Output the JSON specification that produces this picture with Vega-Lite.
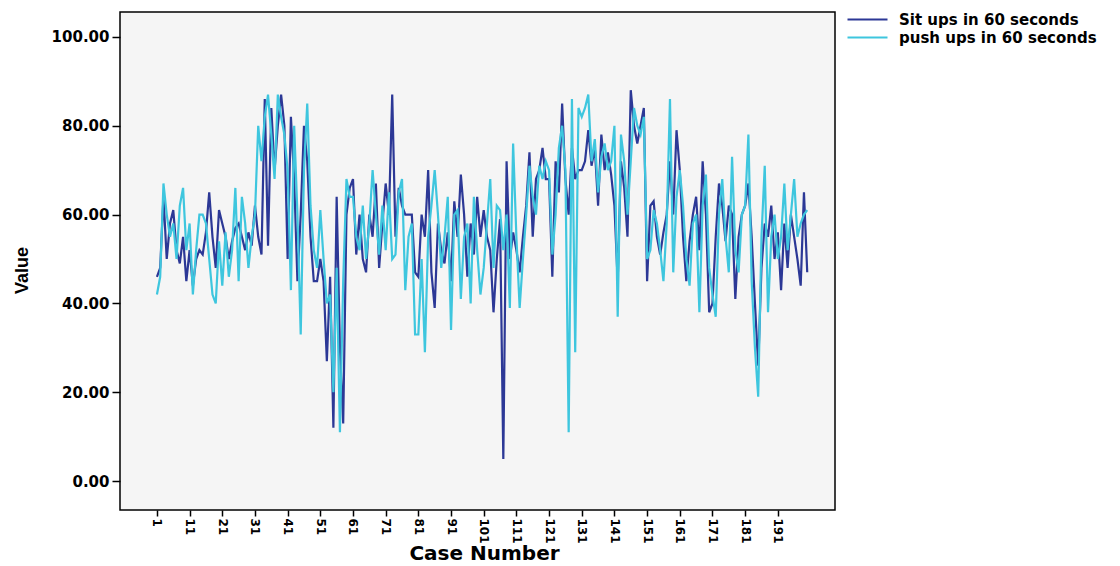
{
  "$schema": "https://vega.github.io/schema/vega-lite/v6.json",
  "width": 715,
  "height": 498,
  "autosize": {"type": "none"},
  "padding": {"left": 120, "top": 12, "right": 285, "bottom": 56},
  "background": "white",
  "config": {
    "view": {"stroke": "black", "strokeWidth": 1.5, "fill": "#f5f5f5"},
    "axis": {"grid": false, "domain": false, "tickColor": "black", "labelColor": "black", "titleColor": "black", "tickWidth": 1.5}
  },
  "data": {"values": [
    {"case":1,"sit":46,"push":42},{"case":2,"sit":48,"push":46},{"case":3,"sit":64,"push":67},{"case":4,"sit":50,"push":60},{"case":5,"sit":58,"push":55},
    {"case":6,"sit":61,"push":58},{"case":7,"sit":52,"push":50},{"case":8,"sit":49,"push":62},{"case":9,"sit":55,"push":66},{"case":10,"sit":45,"push":52},
    {"case":11,"sit":52,"push":58},{"case":12,"sit":44,"push":42},{"case":13,"sit":50,"push":52},{"case":14,"sit":52,"push":60},{"case":15,"sit":51,"push":60},
    {"case":16,"sit":56,"push":58},{"case":17,"sit":65,"push":50},{"case":18,"sit":55,"push":42},{"case":19,"sit":48,"push":40},{"case":20,"sit":61,"push":54},
    {"case":21,"sit":58,"push":44},{"case":22,"sit":55,"push":56},{"case":23,"sit":50,"push":46},{"case":24,"sit":54,"push":52},{"case":25,"sit":57,"push":66},
    {"case":26,"sit":58,"push":45},{"case":27,"sit":55,"push":64},{"case":28,"sit":52,"push":58},{"case":29,"sit":56,"push":48},{"case":30,"sit":53,"push":55},
    {"case":31,"sit":62,"push":60},{"case":32,"sit":55,"push":80},{"case":33,"sit":51,"push":72},{"case":34,"sit":86,"push":82},{"case":35,"sit":53,"push":87},
    {"case":36,"sit":84,"push":78},{"case":37,"sit":70,"push":68},{"case":38,"sit":80,"push":87},{"case":39,"sit":87,"push":82},{"case":40,"sit":80,"push":78},
    {"case":41,"sit":50,"push":70},{"case":42,"sit":82,"push":43},{"case":43,"sit":68,"push":80},{"case":44,"sit":45,"push":60},{"case":45,"sit":60,"push":33},
    {"case":46,"sit":80,"push":70},{"case":47,"sit":72,"push":85},{"case":48,"sit":55,"push":62},{"case":49,"sit":45,"push":52},{"case":50,"sit":45,"push":48},
    {"case":51,"sit":50,"push":61},{"case":52,"sit":45,"push":50},{"case":53,"sit":27,"push":40},{"case":54,"sit":46,"push":42},{"case":55,"sit":12,"push":20},
    {"case":56,"sit":64,"push":48},{"case":57,"sit":30,"push":11},{"case":58,"sit":13,"push":45},{"case":59,"sit":60,"push":68},{"case":60,"sit":66,"push":64},
    {"case":61,"sit":68,"push":64},{"case":62,"sit":51,"push":55},{"case":63,"sit":60,"push":52},{"case":64,"sit":50,"push":62},{"case":65,"sit":47,"push":50},
    {"case":66,"sit":60,"push":58},{"case":67,"sit":55,"push":70},{"case":68,"sit":67,"push":60},{"case":69,"sit":48,"push":51},{"case":70,"sit":58,"push":62},
    {"case":71,"sit":67,"push":52},{"case":72,"sit":60,"push":65},{"case":73,"sit":87,"push":50},{"case":74,"sit":55,"push":51},{"case":75,"sit":66,"push":65},
    {"case":76,"sit":62,"push":68},{"case":77,"sit":60,"push":43},{"case":78,"sit":60,"push":55},{"case":79,"sit":60,"push":58},{"case":80,"sit":47,"push":33},
    {"case":81,"sit":46,"push":33},{"case":82,"sit":60,"push":50},{"case":83,"sit":55,"push":29},{"case":84,"sit":70,"push":55},{"case":85,"sit":47,"push":62},
    {"case":86,"sit":39,"push":70},{"case":87,"sit":58,"push":60},{"case":88,"sit":52,"push":48},{"case":89,"sit":49,"push":55},{"case":90,"sit":56,"push":64},
    {"case":91,"sit":45,"push":34},{"case":92,"sit":63,"push":60},{"case":93,"sit":55,"push":61},{"case":94,"sit":69,"push":41},{"case":95,"sit":60,"push":55},
    {"case":96,"sit":46,"push":58},{"case":97,"sit":58,"push":40},{"case":98,"sit":51,"push":64},{"case":99,"sit":64,"push":52},{"case":100,"sit":55,"push":42},
    {"case":101,"sit":61,"push":48},{"case":102,"sit":55,"push":58},{"case":103,"sit":52,"push":68},{"case":104,"sit":38,"push":48},{"case":105,"sit":50,"push":62},
    {"case":106,"sit":59,"push":61},{"case":107,"sit":5,"push":52},{"case":108,"sit":72,"push":60},{"case":109,"sit":50,"push":39},{"case":110,"sit":56,"push":76},
    {"case":111,"sit":52,"push":55},{"case":112,"sit":47,"push":39},{"case":113,"sit":55,"push":50},{"case":114,"sit":62,"push":60},{"case":115,"sit":74,"push":71},
    {"case":116,"sit":55,"push":64},{"case":117,"sit":68,"push":60},{"case":118,"sit":70,"push":71},{"case":119,"sit":75,"push":68},{"case":120,"sit":68,"push":72},
    {"case":121,"sit":68,"push":70},{"case":122,"sit":46,"push":51},{"case":123,"sit":72,"push":60},{"case":124,"sit":65,"push":75},{"case":125,"sit":85,"push":80},
    {"case":126,"sit":68,"push":70},{"case":127,"sit":60,"push":11},{"case":128,"sit":75,"push":86},{"case":129,"sit":68,"push":29},{"case":130,"sit":70,"push":84},
    {"case":131,"sit":70,"push":82},{"case":132,"sit":72,"push":84},{"case":133,"sit":79,"push":87},{"case":134,"sit":71,"push":72},{"case":135,"sit":75,"push":77},
    {"case":136,"sit":62,"push":65},{"case":137,"sit":78,"push":73},{"case":138,"sit":70,"push":76},{"case":139,"sit":74,"push":70},{"case":140,"sit":69,"push":72},
    {"case":141,"sit":62,"push":80},{"case":142,"sit":45,"push":37},{"case":143,"sit":72,"push":78},{"case":144,"sit":66,"push":72},{"case":145,"sit":55,"push":60},
    {"case":146,"sit":88,"push":72},{"case":147,"sit":80,"push":84},{"case":148,"sit":76,"push":80},{"case":149,"sit":80,"push":78},{"case":150,"sit":84,"push":82},
    {"case":151,"sit":45,"push":50},{"case":152,"sit":62,"push":52},{"case":153,"sit":63,"push":61},{"case":154,"sit":55,"push":58},{"case":155,"sit":51,"push":52},
    {"case":156,"sit":56,"push":45},{"case":157,"sit":60,"push":58},{"case":158,"sit":72,"push":86},{"case":159,"sit":60,"push":47},{"case":160,"sit":79,"push":64},
    {"case":161,"sit":70,"push":70},{"case":162,"sit":55,"push":62},{"case":163,"sit":45,"push":50},{"case":164,"sit":54,"push":44},{"case":165,"sit":60,"push":58},
    {"case":166,"sit":64,"push":60},{"case":167,"sit":52,"push":38},{"case":168,"sit":72,"push":62},{"case":169,"sit":60,"push":69},{"case":170,"sit":38,"push":48},
    {"case":171,"sit":40,"push":42},{"case":172,"sit":55,"push":37},{"case":173,"sit":67,"push":60},{"case":174,"sit":62,"push":68},{"case":175,"sit":54,"push":55},
    {"case":176,"sit":62,"push":47},{"case":177,"sit":60,"push":73},{"case":178,"sit":41,"push":52},{"case":179,"sit":55,"push":47},{"case":180,"sit":60,"push":60},
    {"case":181,"sit":62,"push":62},{"case":182,"sit":67,"push":78},{"case":183,"sit":55,"push":45},{"case":184,"sit":40,"push":30},{"case":185,"sit":26,"push":19},
    {"case":186,"sit":48,"push":55},{"case":187,"sit":58,"push":71},{"case":188,"sit":55,"push":38},{"case":189,"sit":62,"push":55},{"case":190,"sit":50,"push":60},
    {"case":191,"sit":56,"push":50},{"case":192,"sit":43,"push":55},{"case":193,"sit":58,"push":67},{"case":194,"sit":48,"push":52},{"case":195,"sit":60,"push":60},
    {"case":196,"sit":55,"push":68},{"case":197,"sit":50,"push":55},{"case":198,"sit":44,"push":58},{"case":199,"sit":65,"push":60},{"case":200,"sit":47,"push":61}
  ]},
  "transform": [{"fold": ["sit", "push"], "as": ["series", "value"]}],
  "mark": {"type": "line", "strokeWidth": 2.2},
  "encoding": {
    "x": {
      "field": "case", "type": "quantitative",
      "scale": {"domain": [-10.3, 208.5], "nice": false, "zero": false},
      "axis": {
        "values": [1, 11, 21, 31, 41, 51, 61, 71, 81, 91, 101, 111, 121, 131, 141, 151, 161, 171, 181, 191],
        "labelAngle": 90, "labelAlign": "left", "labelBaseline": "middle",
        "labelFont": "DejaVu Sans", "labelFontSize": 12, "labelFontWeight": "bold",
        "tickSize": 6, "labelPadding": 2, "labelOverlap": false,
        "title": "Case Number", "titleFont": "DejaVu Sans", "titleFontSize": 20, "titleFontWeight": "bold",
        "titleX": 364, "titleY": 43, "titleBaseline": "middle", "titleAlign": "center"
      }
    },
    "y": {
      "field": "value", "type": "quantitative",
      "scale": {"domain": [-6.5, 105.6], "nice": false, "zero": false},
      "axis": {
        "values": [0, 20, 40, 60, 80, 100], "format": ".2f",
        "labelFont": "DejaVu Sans", "labelFontSize": 15, "labelFontWeight": "bold",
        "tickSize": 8, "labelPadding": 3,
        "title": "Value", "titleFont": "Liberation Sans", "titleFontSize": 18, "titleFontWeight": "bold",
        "titleX": -98, "titleY": 258, "titleAngle": 270, "titleBaseline": "middle", "titleAlign": "center"
      }
    },
    "color": {
      "field": "series", "type": "nominal",
      "scale": {"domain": ["sit", "push"], "range": ["#2c3896", "#3ec6de"]},
      "legend": {
        "orient": "none", "legendX": 740, "legendY": 0, "title": null,
        "symbolType": "M-4,0H4", "symbolSize": 100, "symbolStrokeWidth": 2,
        "labelFont": "DejaVu Sans", "labelFontSize": 15, "labelFontWeight": "bold", "labelColor": "black",
        "labelOffset": 24, "labelLimit": 300, "rowPadding": 2,
        "labelExpr": "datum.label == 'sit' ? 'Sit ups in 60 seconds' : 'push ups in 60 seconds'"
      }
    }
  }
}
